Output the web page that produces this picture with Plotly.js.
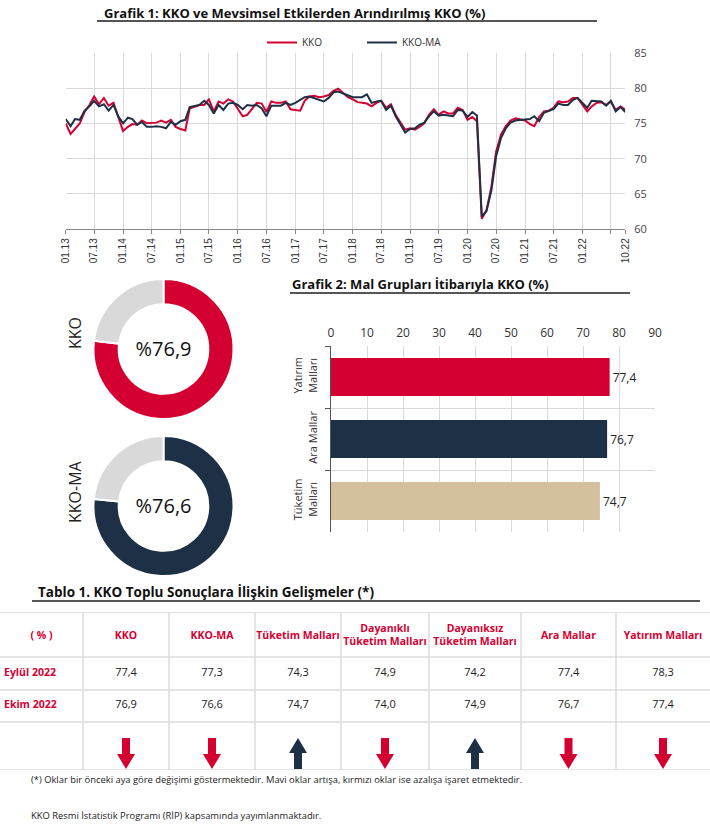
<!DOCTYPE html>
<html><head><meta charset="utf-8">
<script src="https://cdn.plot.ly/plotly-3.0.1.min.js"></script>
<style>html,body{margin:0;padding:0;background:#fff}#chart{width:710px;height:830px}</style>
</head><body><div id="chart"></div>
<script>
// ---------------- DATA ----------------
const startYear = 2013;            // first month: 01.2013
const kko = [
75.0,73.5,74.2,75.0,76.6,77.6,78.8,77.7,78.6,77.5,77.9,76.0,
73.9,74.5,74.9,74.8,75.4,75.0,75.0,75.1,75.4,75.1,75.5,74.5,
74.2,74.0,77.1,77.4,77.6,77.6,78.4,76.7,78.1,77.8,78.4,78.1,
77.1,76.0,76.2,77.1,77.9,77.8,76.6,78.1,77.9,77.9,78.1,77.0,
76.9,76.8,78.2,78.8,78.9,78.7,78.8,79.0,79.6,79.9,79.3,78.7,
78.4,78.0,77.9,77.8,77.4,77.9,78.2,77.2,77.7,76.2,75.1,74.1,
74.3,74.1,74.5,75.0,76.2,77.0,76.2,76.7,76.4,76.4,77.2,76.9,
75.5,75.9,75.3,61.5,62.7,66.0,71.0,73.4,74.6,75.4,75.7,75.6,
75.4,74.9,74.6,75.9,76.7,76.8,77.2,78.1,78.0,78.1,78.6,78.6,
77.6,76.7,77.4,77.9,78.0,77.6,78.1,76.9,77.4,76.9];
const kkoMA = [
75.6,74.6,75.6,75.5,76.8,77.4,78.2,77.4,77.7,76.8,77.6,76.0,
75.0,75.8,75.6,74.8,75.2,74.5,74.5,74.6,74.5,74.3,75.2,74.8,
75.3,75.5,77.3,77.5,77.6,78.2,77.6,76.4,77.6,76.9,77.8,77.9,
77.6,77.0,77.6,77.5,77.6,77.1,76.0,77.5,77.5,77.5,77.9,77.6,
77.9,78.3,78.7,78.8,78.6,78.4,78.1,78.6,79.4,79.5,79.2,78.9,
78.7,78.7,78.7,79.1,77.9,78.1,78.2,76.9,77.5,76.0,74.9,73.7,
74.2,74.3,74.8,75.1,76.0,76.7,76.1,76.2,76.1,76.0,76.9,76.8,
75.9,76.6,76.1,61.8,62.6,65.5,70.3,72.9,74.3,75.1,75.4,75.5,
75.6,75.6,76.0,75.3,76.5,76.7,77.0,77.8,77.6,77.6,78.3,78.6,
77.9,77.2,78.2,78.1,78.1,77.5,78.2,76.7,77.3,76.6];
const xTickDates = ['2013-01-01','2013-07-01','2014-01-01','2014-07-01','2015-01-01','2015-07-01',
  '2016-01-01','2016-07-01','2017-01-01','2017-07-01','2018-01-01','2018-07-01','2019-01-01',
  '2019-07-01','2020-01-01','2020-07-01','2021-01-01','2021-07-01','2022-01-01','2022-07-01','2022-10-01'];
const xTickLabels = ['01.13','07.13','01.14','07.14','01.15','07.15','01.16','07.16','01.17','07.17',
  '01.18','07.18','01.19','07.19','01.20','07.20','01.21','07.21','01.22','','10.22'];

const donutNames = ['KKO','KKO-MA'];
const donutValues = [76.9, 76.6];

const barCategories = ['Yatırım<br>Malları','Ara Mallar','Tüketim<br>Malları'];
const barValues = [77.4, 76.7, 74.7];

const tableHeaders = ['( % )','KKO','KKO-MA','Tüketim Malları','Dayanıklı<br>Tüketim Malları',
  'Dayanıksız<br>Tüketim Malları','Ara Mallar','Yatırım Malları'];
const rowLabels = ['Eylül 2022','Ekim 2022'];
const sep2022 = [77.4, 77.3, 74.3, 74.9, 74.2, 77.4, 78.3];
const oct2022 = [76.9, 76.6, 74.7, 74.0, 74.9, 76.7, 77.4];

// ---------------- LAYOUT HELPERS ----------------
const W = 710, H = 830;
const RED = '#d50032', NAVY = '#1e3045', TAN = '#d4c09e', GREY = '#d9d9d9';
const X = px => px / W, Y = py => 1 - py / H;
const fmt = v => v.toFixed(1).replace('.', ',');
const months = kko.map((_, i) => {
  const y = startYear + Math.floor(i / 12), m = (i % 12) + 1;
  return y + '-' + String(m).padStart(2, '0') + '-01';
});
const colEdges = [0, 83, 169, 255, 341, 429, 521, 616, 710];
const colCenters = colEdges.slice(0, -1).map((e, i) => (e + colEdges[i + 1]) / 2);
const rowY = {head: 636, r1: 673, r2: 705};
const TFONT = 'Open Sans';

const traces = [];
// line chart
traces.push({type:'scatter', mode:'lines', name:'KKO', x:months, y:kko,
  line:{color:RED, width:2}, xaxis:'x', yaxis:'y'});
traces.push({type:'scatter', mode:'lines', name:'KKO-MA', x:months, y:kkoMA,
  line:{color:NAVY, width:2}, xaxis:'x', yaxis:'y'});
// donuts
const donutTops = [279, 436];
donutNames.forEach((n, k) => {
  traces.push({type:'pie', values:[donutValues[k], 100 - donutValues[k]], labels:[n, 'rest'],
    marker:{colors:[k === 0 ? RED : NAVY, GREY], line:{color:'#fff', width:2}},
    hole:0.64, sort:false, direction:'clockwise', rotation:0, textinfo:'none', hoverinfo:'none',
    showlegend:false,
    domain:{x:[X(93.5), X(233.5)], y:[Y(donutTops[k] + 140), Y(donutTops[k])]},
    title:{text:'%' + fmt(donutValues[k]), position:'middle center',
      font:{family:'Open Sans', size:20, color:'#111'}}});
});
// bar chart
traces.push({type:'bar', orientation:'h', x:barValues, y:barCategories, xaxis:'x2', yaxis:'y2',
  marker:{color:[RED, NAVY, TAN]}, texttemplate:'%{x:.1f}', textposition:'outside',
  textfont:{family:'Open Sans', size:12, color:'#222'}, cliponaxis:false, showlegend:false,
  hoverinfo:'none'});
// table texts
traces.push({type:'scatter', mode:'text', x:colCenters, y:colCenters.map(() => rowY.head),
  text:tableHeaders, xaxis:'x3', yaxis:'y3', showlegend:false, hoverinfo:'none',
  textfont:{family:TFONT, size:10.5, color:RED, weight:700}});
[sep2022, oct2022].forEach((arr, r) => {
  const yy = r === 0 ? rowY.r1 : rowY.r2;
  traces.push({type:'scatter', mode:'text', x:[4], y:[yy], text:[rowLabels[r]],
    textposition:'middle right', xaxis:'x3', yaxis:'y3', showlegend:false, hoverinfo:'none',
    textfont:{family:TFONT, size:10.5, color:RED, weight:700}});
  traces.push({type:'scatter', mode:'text', x:colCenters.slice(1), y:arr.map(() => yy),
    text:arr.map(fmt), xaxis:'x3', yaxis:'y3', showlegend:false, hoverinfo:'none',
    textfont:{family:TFONT, size:11, color:'#222'}});
});

// shapes
const shapes = [];
const uline = (x0, x1, y) => shapes.push({type:'line', xref:'paper', yref:'paper',
  x0:X(x0), x1:X(x1), y0:Y(y), y1:Y(y), line:{color:'#555', width:2}});
uline(97, 597, 21); uline(290, 630, 293); uline(32, 700, 601);
// table grid
[612, 657, 690, 722, 770].forEach(yy => shapes.push({type:'line', xref:'x3', yref:'y3',
  x0:0, x1:710, y0:yy, y1:yy, line:{color:'#dcdcdc', width:1.5}}));
colEdges.slice(1, -1).forEach(xx => shapes.push({type:'line', xref:'x3', yref:'y3',
  x0:xx, x1:xx, y0:612, y1:770, line:{color:'#dcdcdc', width:1.5}}));
// arrows from change Sep -> Oct
oct2022.forEach((v, i) => {
  const cx = colCenters[i + 1], up = v > sep2022[i];
  const top = 738, bot = 769, sw = 4, hw = 9, hh = 15;
  let p;
  if (up) {
    p = `M${cx},${top} L${cx+hw},${top+hh} L${cx+sw},${top+hh} L${cx+sw},${bot} L${cx-sw},${bot} L${cx-sw},${top+hh} L${cx-hw},${top+hh} Z`;
  } else {
    p = `M${cx},${bot} L${cx+hw},${bot-hh} L${cx+sw},${bot-hh} L${cx+sw},${top} L${cx-sw},${top} L${cx-sw},${bot-hh} L${cx-hw},${bot-hh} Z`;
  }
  shapes.push({type:'path', xref:'x3', yref:'y3', path:p, fillcolor:up ? NAVY : RED,
    line:{width:0}});
});

const ann = [];
const title = (txt, x, y, s) => ann.push({text:'<b>' + txt + '</b>', xref:'paper', yref:'paper',
  x:X(x), y:Y(y), xanchor:'left', yanchor:'middle', showarrow:false,
  font:{family:'Open Sans', size:s, color:'#111'}});
title('Grafik 1: KKO ve Mevsimsel Etkilerden Arındırılmış KKO (%)', 102, 13, 13);
title('Grafik 2: Mal Grupları İtibarıyla KKO (%)', 290, 284, 13);
title('Tablo 1. KKO Toplu Sonuçlara İlişkin Gelişmeler (*)', 36, 592, 13.5);
donutNames.forEach((n, k) => ann.push({text:n, xref:'paper', yref:'paper', x:X(62),
  y:Y(donutTops[k] + 54 + (k ? 2 : 0)), textangle:-90, showarrow:false,
  font:{family:'Open Sans', size:16, color:'#222'}}));
const note = (txt, y) => ann.push({text:txt, xref:'paper', yref:'paper', x:X(29), y:Y(y),
  xanchor:'left', yanchor:'middle', showarrow:false,
  font:{family:'Open Sans', size:9.4, color:'#222'}});
note('(*) Oklar bir önceki aya göre değişimi göstermektedir. Mavi oklar artışa, kırmızı oklar ise azalışa işaret etmektedir.', 779);
note('KKO Resmi İstatistik Programı (RİP) kapsamında yayımlanmaktadır.', 815);

const layout = {
  width: W, height: H, margin:{l:0, r:0, t:0, b:0},
  paper_bgcolor:'#fff', plot_bgcolor:'#fff', separators:',.',
  font:{family:'Open Sans', color:'#333'},
  showlegend:true,
  legend:{orientation:'h', x:X(262), y:Y(28), xanchor:'left', yanchor:'top',
    font:{size:10, color:'#333'}, itemwidth:30, entrywidth:55, bgcolor:'rgba(0,0,0,0)'},
  xaxis:{domain:[X(65.7), X(625.3)], anchor:'y', type:'date', range:['2013-01-01','2022-10-01'],
    tickmode:'array', tickvals:xTickDates, ticktext:xTickLabels, tickangle:-90,
    tickfont:{family:'Liberation Sans', size:10, color:'#333'},
    showgrid:true, gridcolor:GREY, showline:true, linecolor:'#888', ticks:'outside',
    ticklen:4, tickcolor:'#888', zeroline:false},
  yaxis:{domain:[Y(229.3), Y(52.7)], anchor:'x', side:'right', range:[60, 85], dtick:5,
    tickmode:'linear', tick0:60, showgrid:true, gridcolor:GREY, zeroline:false,
    tickfont:{size:11, color:'#444'}, ticklabelstandoff:8},
  xaxis2:{domain:[X(331), X(655)], anchor:'y2', side:'top', range:[0, 90], dtick:10,
    tickmode:'linear', tick0:0, showgrid:true, gridcolor:GREY, zeroline:false,
    tickfont:{size:12, color:'#333'}, ticklabelstandoff:6},
  yaxis2:{domain:[Y(532), Y(346)], anchor:'x2', type:'category', autorange:'reversed',
    tickson:'boundaries', showgrid:true, gridcolor:GREY, showline:true, linecolor:'#555',
    ticks:'outside', ticklen:5, tickcolor:'#555', tickangle:-90, ticklabelstandoff:9,
    tickfont:{size:11, color:'#333'}},
  bargap:0.39,
  xaxis3:{domain:[0, 1], anchor:'y3', range:[0, 710], visible:false, fixedrange:true},
  yaxis3:{domain:[Y(770), Y(612)], anchor:'x3', range:[770, 612], visible:false, fixedrange:true},
  shapes: shapes, annotations: ann
};
Plotly.newPlot('chart', traces, layout, {displayModeBar:false, staticPlot:true});
</script></body></html>
